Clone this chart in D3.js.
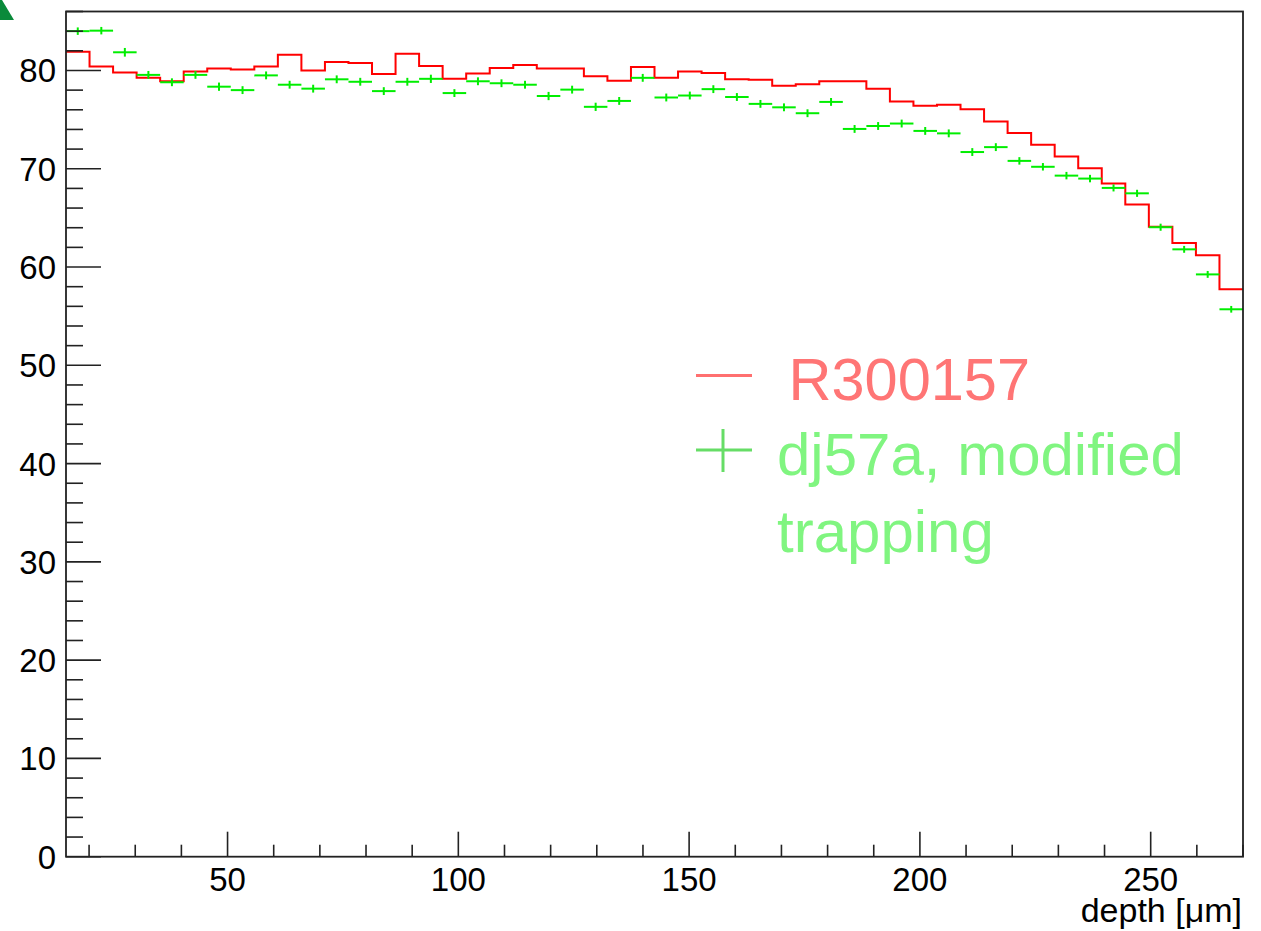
<!DOCTYPE html>
<html>
<head>
<meta charset="utf-8">
<script src="https://cdn.jsdelivr.net/npm/d3@7"></script>
<style>
  html, body { margin: 0; padding: 0; background: #fff; }
  svg { display: block; }
  text { font-family: "Liberation Sans", Arial, Helvetica, sans-serif; }
</style>
</head>
<body>
<svg id="chart" width="1261" height="931"></svg>
<script>
// ---- data ----
const xRange = [15, 270];          // histogram axis range (depth, µm)
const nBins = 50;
const yRange = [0, 86];

const redLabel = " R300157";
const greenLabel = ["dj57a, modified", "trapping"];
const xTitle = "depth [\u03bcm]";

// red histogram (R300157), one value per bin
const redValues = [
  81.9, 80.4, 79.8, 79.25, 78.9, 79.9, 80.2, 80.1, 80.4, 81.6,
  80.0, 80.85, 80.75, 79.65, 81.7, 80.45, 79.15, 79.7, 80.25, 80.55,
  80.2, 80.2, 79.4, 78.95, 80.35, 79.25, 79.9, 79.75, 79.1, 79.05,
  78.45, 78.6, 78.9, 78.9, 78.15, 76.85, 76.4, 76.5, 76.05, 74.8,
  73.65, 72.45, 71.25, 70.05, 68.5, 66.35, 64.1, 62.45, 61.2, 57.75
];

// green points (dj57a, modified trapping), one value per bin
const greenValues = [
  84.0, 84.05, 81.85, 79.55, 78.8, 79.55, 78.35, 78.0, 79.5, 78.55,
  78.15, 79.1, 78.85, 77.9, 78.85, 79.15, 77.7, 78.9, 78.7, 78.55,
  77.4, 78.05, 76.3, 76.9, 79.25, 77.25, 77.45, 78.1, 77.3, 76.6,
  76.25, 75.65, 76.8, 74.05, 74.35, 74.6, 73.85, 73.6, 71.7, 72.2,
  70.8, 70.2, 69.3, 69.0, 68.05, 67.5, 64.05, 61.8, 59.25, 55.7
];

// vertical error bars of the green points
const greenErrors = [
  0.38, 0.38, 0.44, 0.40, 0.40, 0.40, 0.42, 0.40, 0.40, 0.40,
  0.40, 0.40, 0.40, 0.40, 0.40, 0.42, 0.40, 0.40, 0.40, 0.40,
  0.42, 0.40, 0.42, 0.40, 0.40, 0.40, 0.40, 0.40, 0.40, 0.40,
  0.40, 0.40, 0.40, 0.40, 0.40, 0.40, 0.40, 0.40, 0.40, 0.40,
  0.38, 0.38, 0.38, 0.38, 0.36, 0.36, 0.36, 0.35, 0.35, 0.34
];

const xMajorTicks = [50, 100, 150, 200, 250];
const xMinorTicks = d3.range(20, 271, 10);
const yMajorTicks = [0, 10, 20, 30, 40, 50, 60, 70, 80];
const yMinorTicks = d3.range(0, 87, 2);

// ---- layout ----
const frame = { left: 66, right: 1243, top: 11.5, bottom: 856.7 };
const svg = d3.select("#chart");

const x = d3.scaleLinear().domain(xRange).range([frame.left, frame.right]);
const y = d3.scaleLinear().domain(yRange).range([frame.bottom, frame.top]);

const binW = (xRange[1] - xRange[0]) / nBins;
const edges = d3.range(nBins + 1).map(i => xRange[0] + i * binW);

const RED = "#ff0000";
const GREEN = "#00ee00";
const AXIS = "#222";

// corner triangle
svg.append("path")
  .attr("d", "M0,0 L2,0 L14,20 L0,20 Z")
  .attr("fill", "#0a8a3a");

// ---- red histogram ----
const redPts = redValues.map((v, i) => [edges[i], v]);
redPts.push([edges[nBins], redValues[nBins - 1]]);
svg.append("path")
  .datum(redPts)
  .attr("fill", "none")
  .attr("stroke", RED)
  .attr("stroke-width", 2)
  .attr("d", d3.line().x(d => x(d[0])).y(d => y(d[1])).curve(d3.curveStepAfter));

// ---- green points ----
const g = svg.append("g").attr("stroke", GREEN).attr("stroke-width", 2);
greenValues.forEach((v, i) => {
  const cx = x(edges[i] + binW / 2);
  g.append("line")
    .attr("x1", x(edges[i])).attr("x2", x(edges[i + 1]))
    .attr("y1", y(v)).attr("y2", y(v));
  g.append("line")
    .attr("x1", cx).attr("x2", cx)
    .attr("y1", y(v - greenErrors[i])).attr("y2", y(v + greenErrors[i]));
});

// ---- axes ----
const ax = svg.append("g").attr("stroke", AXIS).attr("stroke-width", 1.6);
// frame
svg.append("rect")
  .attr("x", frame.left).attr("y", frame.top)
  .attr("width", frame.right - frame.left).attr("height", frame.bottom - frame.top)
  .attr("fill", "none").attr("stroke", AXIS).attr("stroke-width", 1.8);

// y ticks
yMinorTicks.forEach(t => {
  const major = yMajorTicks.includes(t);
  ax.append("line")
    .attr("x1", frame.left).attr("x2", frame.left + (major ? 35 : 17))
    .attr("y1", y(t)).attr("y2", y(t));
});
// x ticks
xMinorTicks.forEach(t => {
  const major = xMajorTicks.includes(t);
  ax.append("line")
    .attr("x1", x(t)).attr("x2", x(t))
    .attr("y1", frame.bottom).attr("y2", frame.bottom - (major ? 25 : 12));
});

// y tick labels
svg.append("g").selectAll("text").data(yMajorTicks).join("text")
  .attr("x", 56).attr("y", d => y(d) + 12)
  .attr("text-anchor", "end")
  .attr("font-size", 33).attr("fill", "#000")
  .text(d => d);

// x tick labels
svg.append("g").selectAll("text").data(xMajorTicks).join("text")
  .attr("x", d => x(d)).attr("y", 891)
  .attr("text-anchor", "middle")
  .attr("font-size", 33).attr("fill", "#000")
  .text(d => d);

// x title
svg.append("text")
  .attr("x", 1242).attr("y", 922)
  .attr("text-anchor", "end")
  .attr("font-size", 34).attr("fill", "#000")
  .text(xTitle);

// ---- legend ----
svg.append("line")
  .attr("x1", 696).attr("x2", 752).attr("y1", 375.5).attr("y2", 375.5)
  .attr("stroke", "#ff7070").attr("stroke-width", 3);
svg.append("text")
  .attr("x", 772).attr("y", 400)
  .attr("font-size", 59.5).attr("fill", "#ff7575")
  .attr("xml:space", "preserve")
  .style("white-space", "pre")
  .text(redLabel);

svg.append("line")
  .attr("x1", 696).attr("x2", 752).attr("y1", 450).attr("y2", 450)
  .attr("stroke", "#66dd66").attr("stroke-width", 3);
svg.append("line")
  .attr("x1", 723).attr("x2", 723).attr("y1", 429).attr("y2", 472)
  .attr("stroke", "#66dd66").attr("stroke-width", 3);
svg.append("text")
  .attr("x", 777).attr("y", 475)
  .attr("font-size", 60).attr("fill", "#80f580")
  .text(greenLabel[0]);
svg.append("text")
  .attr("x", 777).attr("y", 552)
  .attr("font-size", 60).attr("fill", "#80f580")
  .text(greenLabel[1]);
</script>
</body>
</html>
